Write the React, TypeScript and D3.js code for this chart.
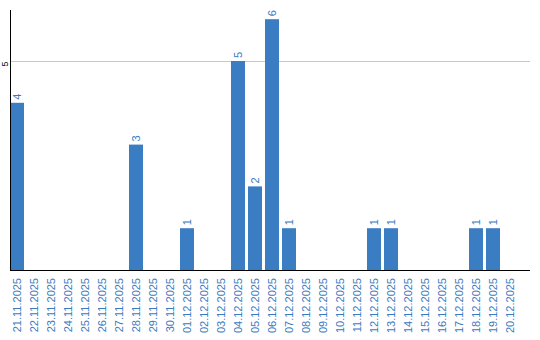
import React from "react";
import * as d3 from "d3";

const categories = [
  "21.11.2025","22.11.2025","23.11.2025","24.11.2025","25.11.2025","26.11.2025","27.11.2025",
  "28.11.2025","29.11.2025","30.11.2025","01.12.2025","02.12.2025","03.12.2025","04.12.2025",
  "05.12.2025","06.12.2025","07.12.2025","08.12.2025","09.12.2025","10.12.2025","11.12.2025",
  "12.12.2025","13.12.2025","14.12.2025","15.12.2025","16.12.2025","17.12.2025","18.12.2025",
  "19.12.2025","20.12.2025",
];
const values = [4,0,0,0,0,0,0,3,0,0,1,0,0,5,2,6,1,0,0,0,0,1,1,0,0,0,0,1,1,0];
const yTicks = [5];

const W = 540, H = 340;
const left = 10, baseY = 270, topY = 10, axisEnd = 530;
const barColor = "#3b7dc3";
const textColor = "#3a7bbf";
const font = "Liberation Sans, Arial, sans-serif";

export default function App() {
  const x = d3.scaleBand<string>().domain(categories).range([left, left + 507]).paddingInner(3 / 17).paddingOuter(0);
  const y = d3.scaleLinear().domain([0, 6.22]).range([baseY, topY]);
  return (
    <svg width={W} height={H} style={{ position: "absolute", left: 0, top: 0 }}>
      {yTicks.map((t) => (
        <g key={t}>
          <line x1={left} x2={axisEnd} y1={y(t) + 0.5} y2={y(t) + 0.5} stroke="#c8c8c8" strokeWidth={1} />
          <text transform={`translate(7.5,${y(t) + 3}) rotate(-90)`} textAnchor="middle" fontFamily={font} fontSize={9} fill="#000">{t}</text>
        </g>
      ))}
      {categories.map((c, i) => values[i] > 0 && (
        <g key={c}>
          <rect x={x(c)!} y={y(values[i])} width={x.bandwidth()} height={baseY - y(values[i])} fill={barColor} />
          <text transform={`translate(${x(c)! + x.bandwidth() / 2},${y(values[i]) - 3}) rotate(-90)`} dy="0.35em" textAnchor="start" fontFamily={font} fontSize={11} fill={textColor}>{values[i]}</text>
        </g>
      ))}
      <line x1={left + 0.5} x2={left + 0.5} y1={topY} y2={baseY} stroke="#000" strokeWidth={1} />
      <line x1={left} x2={axisEnd} y1={baseY + 0.5} y2={baseY + 0.5} stroke="#000" strokeWidth={1} />
      {categories.map((c) => (
        <text key={c} transform={`translate(${x(c)! + x.bandwidth() / 2},${baseY + 8}) rotate(-90)`} dy="0.35em" textAnchor="end" fontFamily={font} fontSize={11} fill={textColor}>{c}</text>
      ))}
    </svg>
  );
}
